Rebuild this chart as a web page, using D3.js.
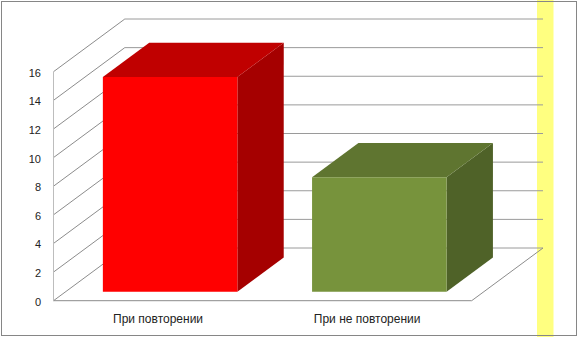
<!DOCTYPE html>
<html>
<head>
<meta charset="utf-8">
<script src="https://cdn.jsdelivr.net/npm/d3@7"></script>
<style>
  body { margin: 0; background: #fff; }
  svg { display: block; font-family: "Liberation Sans", Arial, sans-serif; }
</style>
</head>
<body>
<script>
// data
const categories = ["При повторении", "При не повторении"];
const values = [15, 8];
const tickValues = [0, 2, 4, 6, 8, 10, 12, 14, 16];
const frontColors = ["#ff0000", "#77933c"];
const topColors = ["#c00000", "#5f7530"];
const sideColors = ["#a50000", "#4f6228"];

const W = 578, H = 337;
// depth of the 3d box (full depth offset)
const DX = 71.3, DY = 52.7;
// bars sit between these depth fractions
const d0 = 0.17, d1 = 0.82;

const svg = d3.select("body").append("svg")
    .attr("width", W)
    .attr("height", H);

// yellow stripe on the right
svg.append("rect")
    .attr("x", 537).attr("y", 0)
    .attr("width", 16.5).attr("height", H)
    .attr("fill", "#ffff80");

const x = d3.scaleBand()
    .domain(categories)
    .range([53.5, 471.7])
    .paddingInner(0.357)
    .paddingOuter(0.178);

const xCat = d3.scaleBand()
    .domain(categories)
    .range([53.5, 471.7]);

const y = d3.scaleLinear()
    .domain([0, 16])
    .range([300.7, 71.7]);

function proj(px, py, d) {
    return [px + d * DX, py - d * DY];
}

const x0 = x.range()[0], x1 = x.range()[1];
const grid = svg.append("g");

// side wall + back wall lines
tickValues.forEach(function(v) {
    const a = proj(x0, y(v), 0), b = proj(x0, y(v), 1), c = proj(x1, y(v), 1);
    grid.append("line")
        .attr("x1", a[0]).attr("y1", a[1]).attr("x2", b[0]).attr("y2", b[1])
        .attr("stroke", "#8c8c8c").attr("stroke-width", 1);
    grid.append("line")
        .attr("x1", b[0]).attr("y1", b[1]).attr("x2", c[0]).attr("y2", c[1])
        .attr("stroke", "#9a9a9a").attr("stroke-width", 1);
});

// floor
const fr = proj(x1, y(0), 1);
grid.append("line")
    .attr("x1", x0).attr("y1", y(0)).attr("x2", x1).attr("y2", y(0))
    .attr("stroke", "#8c8c8c");
grid.append("line")
    .attr("x1", x1).attr("y1", y(0)).attr("x2", fr[0]).attr("y2", fr[1])
    .attr("stroke", "#8c8c8c");

// front vertical axis line
grid.append("line")
    .attr("x1", x0).attr("y1", y(0)).attr("x2", x0).attr("y2", y(16))
    .attr("stroke", "#bdbdbd");

// bars
const bars = svg.append("g");
categories.forEach(function(cat, i) {
    const bx0 = x(cat), bx1 = x(cat) + x.bandwidth();
    const top = y(values[i]), base = y(0);
    const p = function(px, py, d) { return proj(px, py, d).join(","); };

    // right side
    bars.append("polygon")
        .attr("points", [p(bx1, base, d0), p(bx1, top, d0), p(bx1, top, d1), p(bx1, base, d1)].join(" "))
        .attr("fill", sideColors[i]);
    // top
    bars.append("polygon")
        .attr("points", [p(bx0, top, d0), p(bx1, top, d0), p(bx1, top, d1), p(bx0, top, d1)].join(" "))
        .attr("fill", topColors[i]);
    // front
    bars.append("polygon")
        .attr("points", [p(bx0, base, d0), p(bx1, base, d0), p(bx1, top, d0), p(bx0, top, d0)].join(" "))
        .attr("fill", frontColors[i]);
});

// tick labels
svg.append("g").selectAll("text")
    .data(tickValues)
    .join("text")
    .attr("x", 41)
    .attr("y", d => y(d) + 5)
    .attr("text-anchor", "end")
    .attr("font-size", 11)
    .attr("fill", "#222")
    .text(d => d);

// category labels
svg.append("g").selectAll("text")
    .data(categories)
    .join("text")
    .attr("x", d => xCat(d) + xCat.bandwidth() / 2)
    .attr("y", 323)
    .attr("text-anchor", "middle")
    .attr("font-size", 12)
    .attr("fill", "#222")
    .text(d => d);

// outer border
svg.append("rect")
    .attr("x", 1.5).attr("y", 1.5)
    .attr("width", 575).attr("height", 334)
    .attr("fill", "none")
    .attr("stroke", "#868686");
</script>
</body>
</html>
